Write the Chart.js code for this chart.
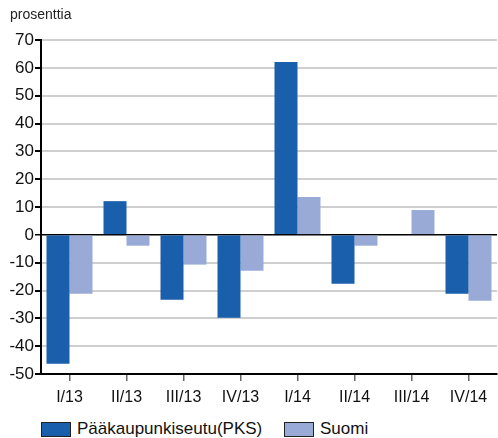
<!DOCTYPE html>
<html>
<head>
<meta charset="utf-8">
<script src="https://cdn.jsdelivr.net/npm/chart.js@4"></script>
<style>
  html, body { margin: 0; padding: 0; background: #fff; }
  #wrap { position: relative; width: 498px; height: 438px; overflow: hidden;
          font-family: "Liberation Sans", Arial, sans-serif; color: #111; }
  #myCanvas { position: absolute; left: 0; top: 0; }
  #unit { position: absolute; left: 10px; top: 6px; font-size: 14px; color: #222; }
  .item { position: absolute; top: 420px; height: 18px; line-height: 18px; font-size: 17px; white-space: nowrap; }
  .box { position: absolute; left: 0; top: 2px; width: 28px; height: 13px; border: 1px solid #222; }
  .txt { position: absolute; left: 36px; top: 0; }
</style>
</head>
<body>
<div id="wrap">
  <canvas id="myCanvas" width="498" height="414"></canvas>
  <div id="unit">prosenttia</div>
  <div id="legend"></div>
</div>
<script>
"use strict";
var quarters = ['I/13', 'II/13', 'III/13', 'IV/13', 'I/14', 'II/14', 'III/14', 'IV/14'];
var seriesNames = ['Pääkaupunkiseutu(PKS)', 'Suomi'];
var pks = [-46.3, 12.1, -23.3, -29.8, 62.1, -17.6, 0, -21.2];
var suomi = [-21.2, -3.9, -10.7, -12.9, 13.6, -3.9, 8.9, -23.7];
var yTicks = [-50, -40, -30, -20, -10, 0, 10, 20, 30, 40, 50, 60, 70];
var colors = ['#1a5fab', '#99aad7'];

Chart.defaults.font.family = '"Liberation Sans", Arial, sans-serif';
Chart.defaults.color = '#111';

var chartdata = {
    labels: quarters,
    datasets: [
        { label: seriesNames[0], backgroundColor: colors[0], data: pks },
        { label: seriesNames[1], backgroundColor: colors[1], data: suomi }
    ]
};

var ctx = document.getElementById('myCanvas');
var barGraph = new Chart(ctx, {
    type: 'bar',
    data: chartdata,
    options: {
        responsive: false,
        animation: false,
        layout: { padding: { left: 0, right: 1, top: 40, bottom: 0 } },
        datasets: { bar: { barPercentage: 1, categoryPercentage: 0.807 } },
        plugins: {
            tooltip: { enabled: false },
            legend: { display: false }
        },
        scales: {
            x: {
                grid: {
                    offset: false,
                    drawOnChartArea: false,
                    drawTicks: true,
                    tickLength: 7,
                    tickColor: '#666',
                    lineWidth: 1.5
                },
                border: { color: '#000', width: 2 },
                ticks: { font: { size: 16 }, color: '#111', padding: 7, maxRotation: 0 },
                afterFit: function (scale) { scale.height = 40; }
            },
            y: {
                min: -50,
                max: 70,
                afterBuildTicks: function (scale) {
                    scale.ticks = yTicks.map(function (v) { return { value: v }; });
                },
                grid: {
                    color: function (c) { return c.tick && c.tick.value === 0 ? '#000' : '#cfcfcf'; },
                    lineWidth: function (c) { return c.tick && c.tick.value === 0 ? 1.5 : 2; },
                    tickColor: '#000',
                    tickLength: 6
                },
                border: { color: '#000', width: 2 },
                ticks: { font: { size: 17 }, color: '#111', padding: 1 },
                afterFit: function (scale) { scale.width = 41; }
            }
        }
    }
});

// legend as html below the canvas
var legend = document.getElementById('legend');
var lefts = [41, 284];
for (var i = 0; i < seriesNames.length; i++) {
    var item = document.createElement('div');
    item.className = 'item';
    item.style.left = lefts[i] + 'px';
    item.innerHTML = '<span class="box" style="background:' + colors[i] + '"></span>' +
        '<span class="txt">' + seriesNames[i] + '</span>';
    legend.appendChild(item);
}
</script>
</body>
</html>
